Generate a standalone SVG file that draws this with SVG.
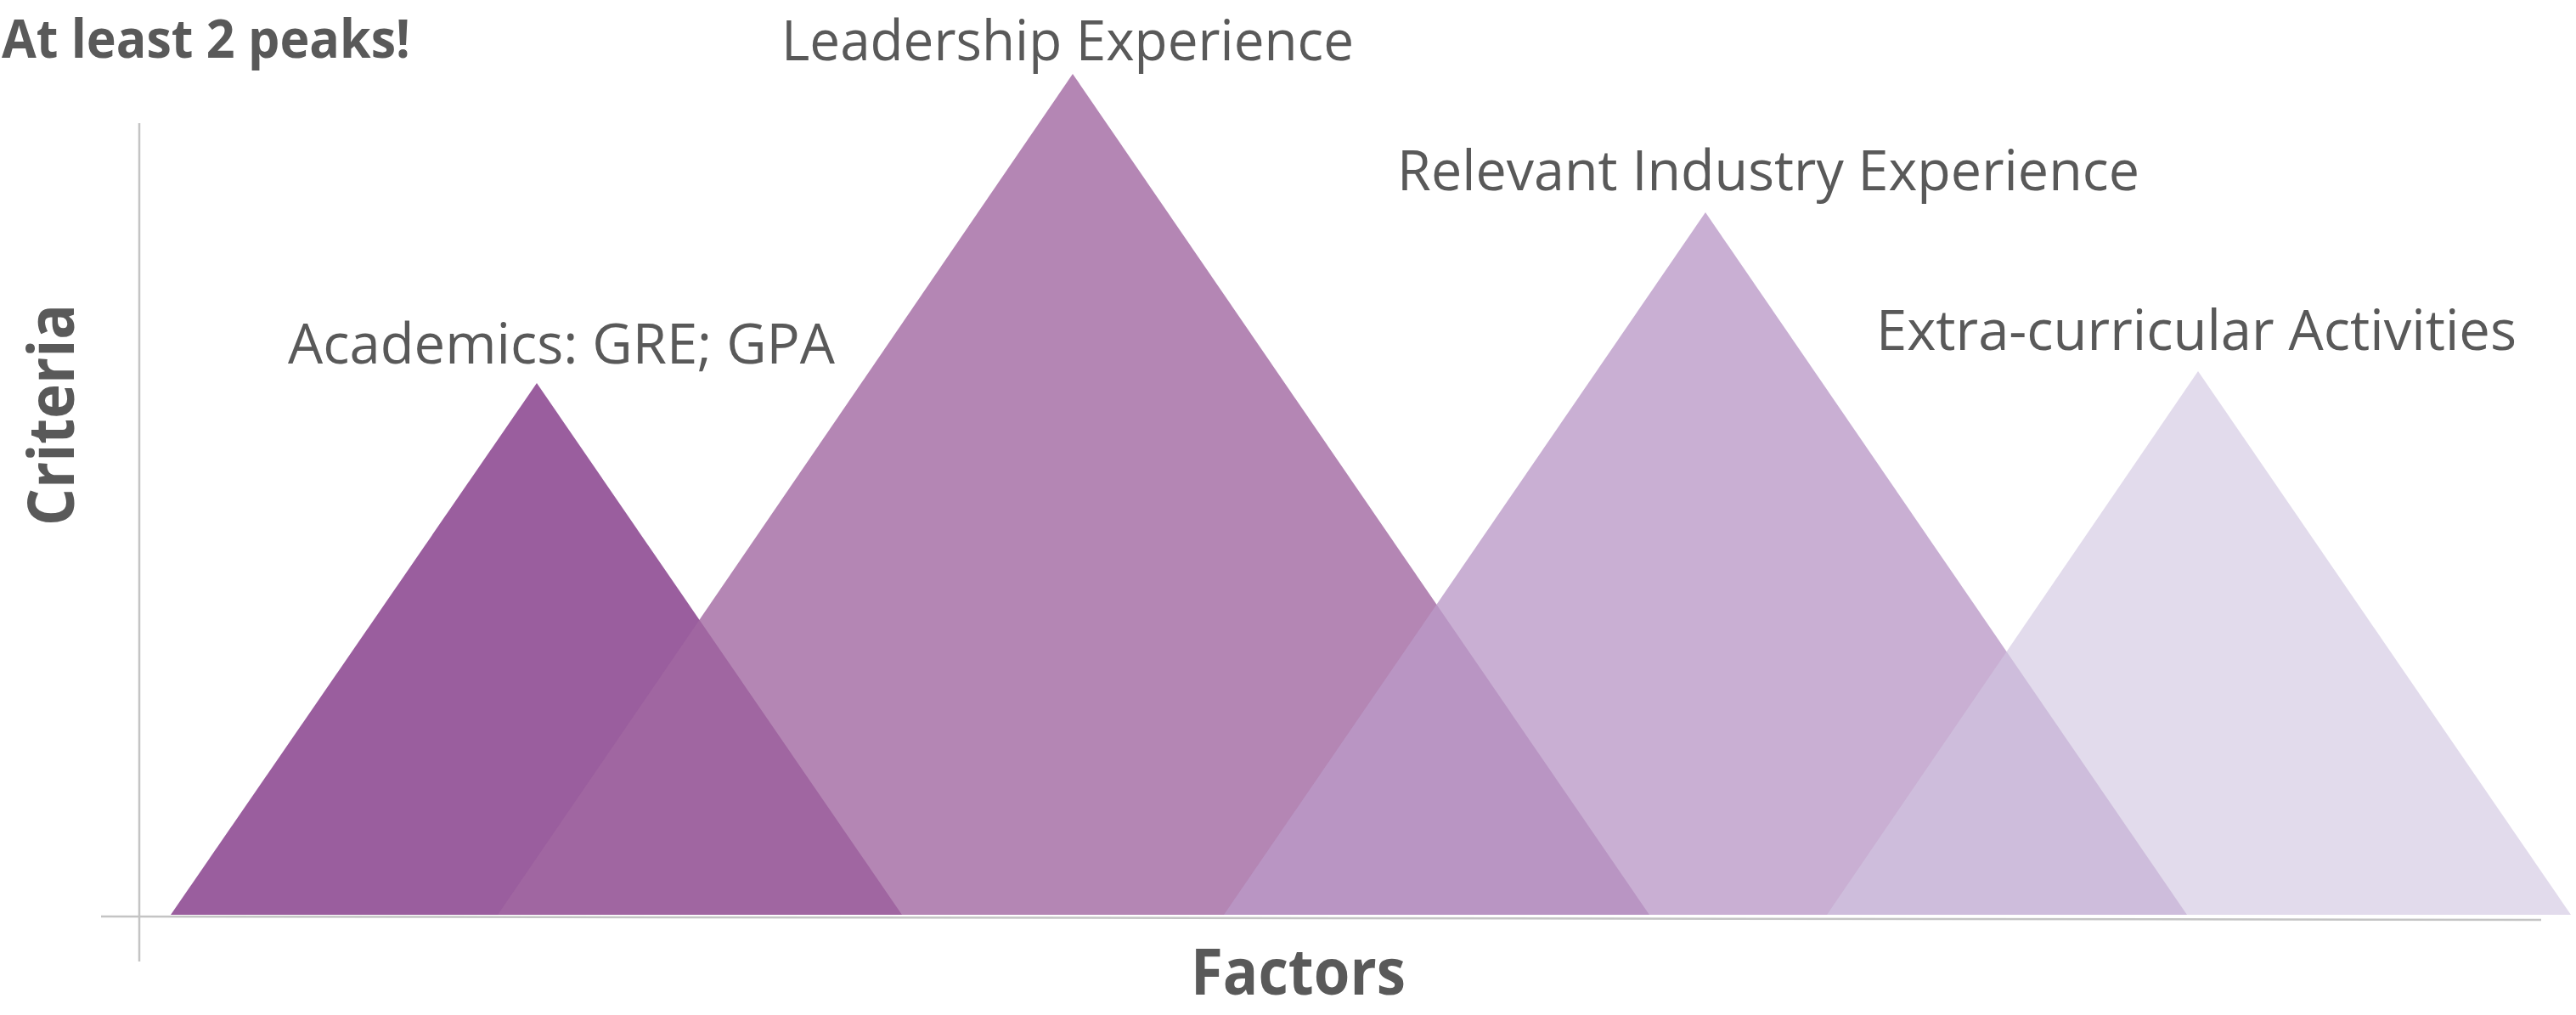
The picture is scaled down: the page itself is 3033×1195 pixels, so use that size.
<svg xmlns="http://www.w3.org/2000/svg" width="3033" height="1195" viewBox="0 0 3033 1195">
  <style>
    .lbl { font-family: "Open Sans", "Liberation Sans", sans-serif; font-size: 66px; fill: #595959; }
    .bold { font-family: "Open Sans", "Liberation Sans", sans-serif; font-weight: bold; fill: #595959; }
    .axis { stroke: #c4c4c4; stroke-width: 2.5; fill: none; }
  </style>
  <rect width="3033" height="1195" fill="#ffffff"/>
  <g id="axes">
    <line class="axis" x1="164" y1="145" x2="164" y2="1132"/>
    <line class="axis" x1="119" y1="1079" x2="2992" y2="1083"/>
  </g>
  <g id="academics">
    <polygon points="201,1077 632,451 1062,1077" fill="#9a5e9e"/>
    <text class="lbl" x="339" y="428" textLength="644" lengthAdjust="spacingAndGlyphs">Academics: GRE; GPA</text>
  </g>
  <g id="leadership">
    <polygon points="586,1077 1263,87 1942,1077" fill="#a168a1" fill-opacity="0.8"/>
    <text class="lbl" x="920" y="71" textLength="674" lengthAdjust="spacingAndGlyphs">Leadership Experience</text>
  </g>
  <g id="industry">
    <polygon points="1441,1077 2008,250 2575,1077" fill="#bb9ac7" fill-opacity="0.79"/>
    <text class="lbl" x="1645" y="224" textLength="874" lengthAdjust="spacingAndGlyphs">Relevant Industry Experience</text>
  </g>
  <g id="extracurricular">
    <polygon points="2151,1077 2588,437 3027,1077" fill="#d1c6e1" fill-opacity="0.63"/>
    <text class="lbl" x="2209" y="412" textLength="754" lengthAdjust="spacingAndGlyphs">Extra-curricular Activities</text>
  </g>
  <g id="title">
    <text class="bold" x="2" y="68" font-size="63" textLength="481" lengthAdjust="spacingAndGlyphs">At least 2 peaks!</text>
  </g>
  <g id="y-label">
    <text class="bold" transform="translate(87,619) rotate(-90)" x="0" y="0" font-size="76" textLength="261" lengthAdjust="spacingAndGlyphs">Criteria</text>
  </g>
  <g id="x-label">
    <text class="bold" x="1402" y="1171" font-size="76" textLength="253" lengthAdjust="spacingAndGlyphs">Factors</text>
  </g>
</svg>
